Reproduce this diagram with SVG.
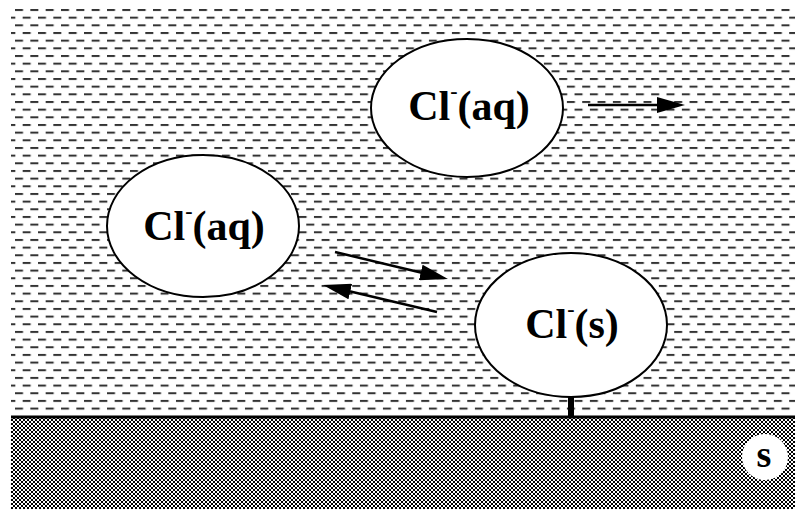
<svg xmlns="http://www.w3.org/2000/svg" width="795" height="509" viewBox="0 0 795 509">
  <defs>
    <pattern id="water" patternUnits="userSpaceOnUse" x="15" y="9" width="15.33" height="15.33">
      <rect x="0" y="0" width="8" height="2" fill="#333"/>
      <rect x="7.67" y="7.67" width="8" height="2" fill="#333"/>
      <rect x="-7.67" y="7.67" width="8" height="2" fill="#333"/>
    </pattern>
    <pattern id="solid" patternUnits="userSpaceOnUse" x="11" y="419" width="4" height="4">
      <rect x="0" y="0" width="4" height="4" fill="#fff"/>
      <rect x="0" y="0" width="2" height="2" fill="#000"/>
      <rect x="2" y="2" width="2" height="2" fill="#000"/>
    </pattern>
    <marker id="head" viewBox="0 0 28 16" refX="16" refY="8" markerWidth="28" markerHeight="16" markerUnits="userSpaceOnUse" orient="auto">
      <path d="M0,0 L28,8 L0,16 Z" fill="#000"/>
    </marker>
    <style>
      .node ellipse { fill: #fff; stroke: #000; stroke-width: 2; }
      .lbl { font-family: "Liberation Serif", "Times New Roman", serif; font-weight: bold; font-size: 42px; text-anchor: middle; fill: #000; }
      .conn path { fill: none; stroke: #000; stroke-width: 2.5; marker-end: url(#head); }
    </style>
  </defs>
  <rect x="0" y="0" width="795" height="509" fill="#fff"/>
  <g id="water-region">
    <rect x="11" y="5" width="784" height="408" fill="url(#water)"/>
  </g>
  <g id="solid-region">
    <rect x="11" y="418" width="784" height="91" fill="url(#solid)"/>
    <line x1="11" y1="417" x2="795" y2="417" stroke="#000" stroke-width="3"/>
  </g>
  <g class="conn" id="connectors">
    <path d="M588,105 L673,105"/>
    <path d="M335,252 L436.3,276.2"/>
    <path d="M437,312 L334.7,287.8"/>
    <rect x="568" y="396" width="6" height="21" fill="#000"/>
  </g>
  <g class="node" id="node-aq-top">
    <ellipse cx="467" cy="108" rx="96" ry="69"/>
    <text class="lbl" x="469" y="120">Cl<tspan font-size="22" dy="-22">-</tspan><tspan dy="22">(aq)</tspan></text>
  </g>
  <g class="node" id="node-aq-left">
    <ellipse cx="203" cy="226" rx="96" ry="71"/>
    <text class="lbl" x="204" y="240">Cl<tspan font-size="22" dy="-22">-</tspan><tspan dy="22">(aq)</tspan></text>
  </g>
  <g class="node" id="node-s">
    <ellipse cx="571" cy="325" rx="96" ry="72"/>
    <text class="lbl" x="572" y="338">Cl<tspan font-size="22" dy="-22">-</tspan><tspan dy="22">(s)</tspan></text>
  </g>
  <g id="label-s">
    <circle cx="765" cy="457" r="23" fill="#fff"/>
    <text class="lbl" x="764" y="467" style="font-size:38px">s</text>
  </g>
</svg>
